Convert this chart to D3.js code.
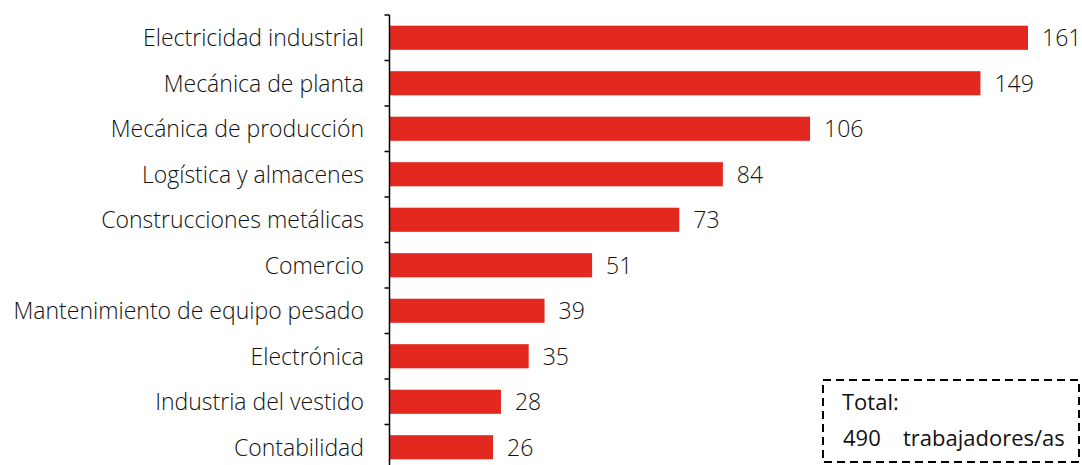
<!DOCTYPE html>
<html><head><meta charset="utf-8">
<script src="https://cdn.jsdelivr.net/npm/d3@7"></script>
<style>body{margin:0;background:#fff;} svg{display:block;} text{font-family:"Open Sans",sans-serif;font-weight:300;fill:#111;}</style>
</head><body>
<svg id="c" width="1082" height="465"></svg>
<script>
const categories = ["Electricidad industrial","Mecánica de planta","Mecánica de producción","Logística y almacenes","Construcciones metálicas","Comercio","Mantenimiento de equipo pesado","Electrónica","Industria del vestido","Contabilidad"];
const values = [161,149,106,84,73,51,39,35,28,26];
const totalLabel = "Total:";
const totalValue = 490;
const totalUnit = "trabajadores/as";

const svg = d3.select("#c");
const x = d3.scaleLinear().domain([0,161]).range([390,1028]);
const y = d3.scaleBand().domain(categories).range([15,470]).paddingInner(0.47).paddingOuter(0.235);

svg.selectAll("rect.bar").data(values).join("rect")
  .attr("class","bar")
  .attr("x", x(0))
  .attr("y",(d,i)=>y(categories[i]))
  .attr("width",d=>x(d)-x(0))
  .attr("height",y.bandwidth())
  .attr("fill","#E2281F");

svg.selectAll("text.val").data(values).join("text")
  .attr("class","val")
  .attr("x",d=>x(d)+14)
  .attr("y",(d,i)=>y(categories[i])+y.bandwidth()/2)
  .attr("dy","0.36em")
  .attr("font-size",23)
  .text(d=>d);

svg.selectAll("text.cat").data(categories).join("text")
  .attr("class","cat")
  .attr("x",364)
  .attr("y",d=>y(d)+y.bandwidth()/2)
  .attr("dy","0.36em")
  .attr("text-anchor","end")
  .attr("font-size",23)
  .text(d=>d);

// axis with ticks at category boundaries
const axisX = 389.5;
svg.append("line").attr("x1",axisX).attr("x2",axisX).attr("y1",15).attr("y2",470).attr("stroke","#000").attr("stroke-width",1.5);
const bounds = d3.range(categories.length+1).map(i=> y.range()[0] + i*y.step());
svg.selectAll("line.tick").data(bounds).join("line").attr("class","tick")
  .attr("x1",axisX-5).attr("x2",axisX).attr("y1",d=>d).attr("y2",d=>d)
  .attr("stroke","#000").attr("stroke-width",1.5);

// total box
svg.append("rect").attr("x",823).attr("y",380).attr("width",256).attr("height",82)
  .attr("fill","none").attr("stroke","#000").attr("stroke-width",2).attr("stroke-dasharray","8,5");
svg.append("text").attr("x",842).attr("y",410).attr("font-size",22).style("font-weight",400).text(totalLabel);
svg.append("text").attr("x",843).attr("y",446).attr("font-size",22).style("font-weight",400).text(totalValue);
svg.append("text").attr("x",903).attr("y",446).attr("font-size",22).style("font-weight",400).text(totalUnit);
</script>
</body></html>
